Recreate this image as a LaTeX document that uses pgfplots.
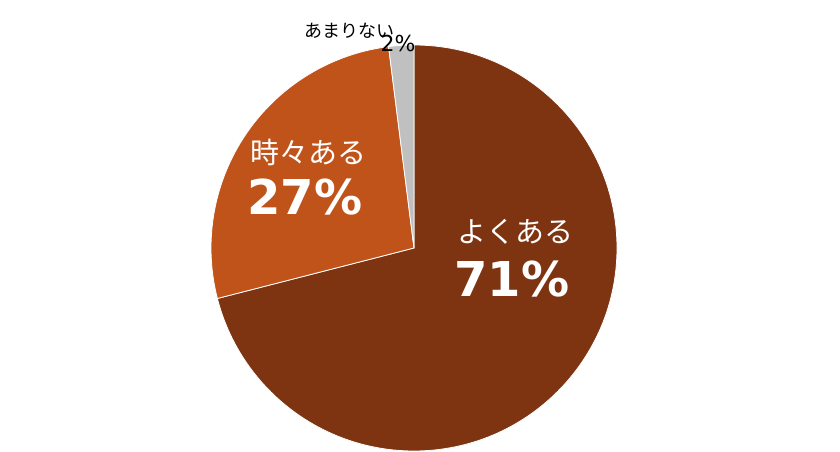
\documentclass[border=0pt]{standalone}
\usepackage{fontspec}
\usepackage{pgfplots}
\usepackage{pgfplotstable}
\pgfplotsset{compat=1.18}
\newfontfamily\jp{Noto Sans CJK JP}
\newfontfamily\num{DejaVu Sans}

\definecolor{slicedark}{HTML}{7E3411}
\definecolor{sliceorange}{HTML}{C0531A}
\definecolor{slicegray}{HTML}{C0C0C0}

\pgfplotstableread{
label value
yoku 71
toki 27
amari 2
}\piedata

\begin{document}
\begin{tikzpicture}
  \pgfplotstablegetelem{0}{value}\of\piedata \let\va\pgfplotsretval
  \pgfplotstablegetelem{1}{value}\of\piedata \let\vb\pgfplotsretval
  \pgfplotstablegetelem{2}{value}\of\piedata \let\vc\pgfplotsretval
  % slices run clockwise from 12 o'clock
  \pgfmathsetmacro\aA{90-3.6*\va}
  \pgfmathsetmacro\aB{\aA-3.6*\vb}
  \pgfmathsetmacro\aC{\aB-3.6*\vc}
  \begin{axis}[
    width=840pt, height=452pt,
    scale only axis,
    xmin=0, xmax=840,
    ymin=0, ymax=452,
    hide axis,
    clip=false,
  ]
    \addplot[draw=none, forget plot] coordinates {(0,0) (840,452)};

    \fill[slicedark, draw=white, line width=0.8pt]
      (axis cs:414,204) -- ++(90:203pt) arc[start angle=90, end angle=\aA, radius=203pt] -- cycle;
    \fill[sliceorange, draw=white, line width=0.8pt]
      (axis cs:414,204) -- ++(\aA:203pt) arc[start angle=\aA, end angle=\aB, radius=203pt] -- cycle;
    \fill[slicegray, draw=white, line width=0.8pt]
      (axis cs:414,204) -- ++(\aB:203pt) arc[start angle=\aB, end angle=\aC, radius=203pt] -- cycle;

    \node[text=white, font=\jp\fontsize{29}{29}\selectfont] at (axis cs:515,220) {よくある};
    \node[text=white, font=\num\bfseries\fontsize{48}{48}\selectfont] at (axis cs:512,173) {71\%};
    \node[text=white, font=\jp\fontsize{29}{29}\selectfont] at (axis cs:308,300) {時々ある};
    \node[text=white, font=\num\bfseries\fontsize{48}{48}\selectfont] at (axis cs:305,255) {27\%};
    \node[text=black, font=\jp\fontsize{18}{18}\selectfont] at (axis cs:349,421) {あまりない};
    \node[text=black, font=\num\fontsize{22}{22}\selectfont] at (axis cs:398,409) {2\%};
  \end{axis}
\end{tikzpicture}
\end{document}
